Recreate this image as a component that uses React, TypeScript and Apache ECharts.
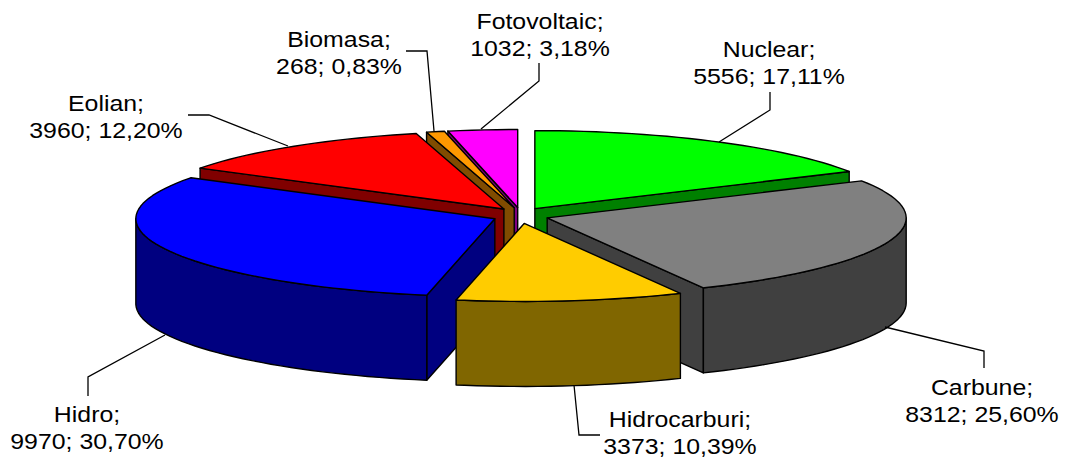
import React, { useEffect, useRef } from "react";
import * as echarts from "echarts";

// Slices in clockwise order, starting at 12 o'clock
const names = ["Nuclear", "Carbune", "Hidrocarburi", "Hidro", "Eolian", "Biomasa", "Fotovoltaic"];
const values = [5556, 8312, 3373, 9970, 3960, 268, 1032];
const percents = ["17,11%", "25,60%", "10,39%", "30,70%", "12,20%", "0,83%", "3,18%"];
const topColors = ["#00FF00", "#808080", "#FFCC00", "#0000FF", "#FF0000", "#FF9900", "#FF00FF"];
const sideColors = ["#008000", "#404040", "#806600", "#000080", "#800000", "#804C00", "#800080"];

// Painter's order, back to front
const paintOrder = [0, 6, 5, 4, 3, 1, 2];

// Label layout: centre x, y of text block
const labelPos: [number, number][] = [
  [769, 63], [982, 401], [680, 433.5], [87, 428], [106, 117], [339, 53], [540, 35],
];
const leaders: [number, number][][] = [
  [[770, 92], [770, 110], [719, 142]],
  [[984, 368], [984, 351], [885, 327]],
  [[600, 435], [579, 435], [574, 385]],
  [[88, 396], [88, 377], [165, 335]],
  [[188, 115], [209, 115], [288, 146]],
  [[406, 51], [427, 51], [434, 131]],
  [[539, 63], [539, 81], [481, 129]],
];

const CX = 520.5, CY = 215.5, RX = 359, RY = 78, DEPTH = 85, EX = 28, EY = 8;
const NARROW = 0.02; // slight perspective pinch near the front and back
const STEP = 2;
const LINE = { stroke: "#000", lineWidth: 1.4, lineJoin: "round" as const };
const LINE_GAP = 27;

const total = values.reduce((a, b) => a + b, 0);
const rad = (d: number) => (d * Math.PI) / 180;

function renderSlice(params: any, api: any) {
  const idx = api.value(0) as number;
  let acc = 0;
  for (let i = 0; i < idx; i++) acc += values[i];
  const a0 = (acc / total) * 360;
  const a1 = ((acc + values[idx]) / total) * 360;
  const m = (a0 + a1) / 2;
  const ax = CX + EX * Math.sin(rad(m));
  const ay = CY - EY * Math.cos(rad(m));
  const pt = (a: number, dz = 0): number[] => {
    const c = Math.cos(rad(a));
    return [ax + RX * Math.sin(rad(a)) * (1 - NARROW * c * c), ay - RY * c + dz];
  };
  const arc = (from: number, to: number, dz = 0) => {
    const out: number[][] = [];
    for (let a = from; a < to; a += STEP) out.push(pt(a, dz));
    out.push(pt(to, dz));
    return out;
  };
  const side = sideColors[idx];
  const children: any[] = [];
  const poly = (points: number[][], fill: string) =>
    children.push({ type: "polygon", shape: { points }, style: { fill, ...LINE } });

  // Cut walls facing the viewer
  const wall = (a: number) => {
    const p = pt(a), q = pt(a, DEPTH);
    poly([[ax, ay], p, q, [ax, ay + DEPTH]], side);
  };
  if (Math.cos(rad(a0 - 90)) < 0) wall(a0);
  if (Math.cos(rad(a1 + 90)) < 0) wall(a1);

  // Outer rim, front half only
  const f0 = Math.max(a0, 90), f1 = Math.min(a1, 270);
  if (f1 > f0) {
    poly([...arc(f0, f1), ...arc(f0, f1, DEPTH).reverse()], side);
  }
  // Top face
  poly([[ax, ay], ...arc(a0, a1)], topColors[idx]);
  return { type: "group", children };
}

export default function App() {
  const ref = useRef<HTMLDivElement>(null);
  useEffect(() => {
    const chart = echarts.init(ref.current!, undefined, { renderer: "svg" });
    const graphics: any[] = [];
    const addText = (text: string, x: number, y: number) =>
      graphics.push({
        type: "text",
        x,
        y,
        scaleX: 1.13,
        z: 11,
        style: {
          text,
          font: '22px "Liberation Sans", Arial, sans-serif',
          fill: "#000",
          align: "center",
          verticalAlign: "middle",
        },
      });
    names.forEach((n, i) => {
      graphics.push({
        type: "polyline",
        shape: { points: leaders[i] },
        style: { stroke: "#000", lineWidth: 1.3, fill: "none" },
        z: 10,
      });
      const [x, y] = labelPos[i];
      addText(`${n};`, x, y - LINE_GAP / 2);
      addText(`${values[i]}; ${percents[i]}`, x, y + LINE_GAP / 2);
    });
    chart.setOption({
      animation: false,
      backgroundColor: "#fff",
      graphic: graphics,
      series: [
        {
          type: "custom",
          coordinateSystem: "none",
          silent: true,
          renderItem: renderSlice,
          data: paintOrder.map((i) => [i, values[i]]),
        },
      ],
    });
    return () => chart.dispose();
  }, []);
  return (
    <div
      ref={ref}
      style={{ position: "absolute", left: 0, top: 0, width: 1069, height: 458 }}
    />
  );
}
